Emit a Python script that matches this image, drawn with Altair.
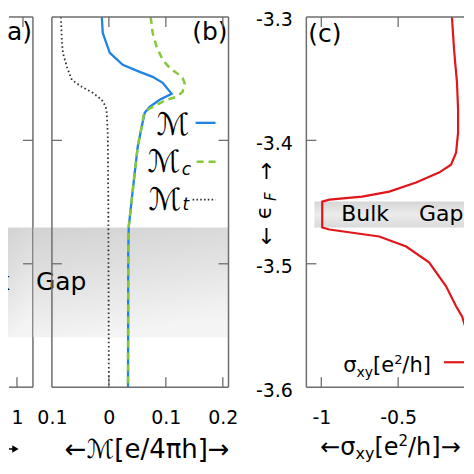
import altair as alt
import pandas as pd

FONT = "DejaVu Sans"
FC = "#6e6e6e"          # frame colour
E_LO, E_HI = -3.6, -3.3
H = 371
W_A, W_B, W_S, W_C = 25, 177, 40, 158
GAP = 19

A_DOM = [0.9416, 1.1039]
B_DOM = [-0.1, 0.21]
C_DOM = [-1.0974, -0.0714]

# ---------------- panel (b): magnetisation curves ----------------
m_e = [-3.300, -3.313, -3.329, -3.3388, -3.3445, -3.3485, -3.3534, -3.3623, -3.3671,
       -3.3728, -3.3777, -3.3890, -3.4052, -3.4262, -3.4480, -3.4699, -3.4885, -3.600]
m_v = [-0.0124, -0.0107, 0.0016, 0.0243, 0.0541, 0.0769, 0.0944, 0.1102, 0.0892,
       0.0716, 0.0629, 0.0576, 0.0506, 0.0454, 0.0401, 0.0349, 0.0340, 0.0336]

mc_e = [-3.300, -3.313, -3.3243, -3.3348, -3.3413, -3.3453, -3.3494, -3.3534, -3.3607,
        -3.3647, -3.3671, -3.3712, -3.3752, -3.3793, -3.3890, -3.4052, -3.4262, -3.4480,
        -3.4699, -3.4885, -3.600]
mc_v = [0.0734, 0.0769, 0.0839, 0.0944, 0.1067, 0.1189, 0.1294, 0.1329, 0.1294,
        0.1189, 0.1014, 0.0839, 0.0681, 0.0611, 0.0576, 0.0506, 0.0454, 0.0401,
        0.0349, 0.0340, 0.0336]

mt_e = [-3.300, -3.320, -3.3292, -3.3404, -3.351, -3.3566, -3.3615, -3.3671, -3.3728,
        -3.3777, -3.3939, -3.448, -3.600]
mt_v = [-0.0842, -0.0825, -0.0807, -0.0737, -0.0650, -0.0475, -0.0282, -0.0124, -0.0054,
        -0.0037, -0.0020, -0.0010, 0.000]

# ---------------- panel (c): Hall conductivity ----------------
s_e = [-3.300, -3.3267, -3.3534, -3.3752, -3.3938, -3.4100, -3.4197, -3.4261, -3.4342,
       -3.4415, -3.4456, -3.4480, -3.4496, -3.4706, -3.4722, -3.4779, -3.4860, -3.4989,
       -3.5183, -3.5345, -3.5426, -3.5531, -3.5669, -3.5855, -3.600]
s_v = [-0.150, -0.136, -0.117, -0.110, -0.110, -0.123, -0.156, -0.234, -0.383,
       -0.558, -0.734, -0.948, -0.994, -0.994, -0.948, -0.623, -0.448, -0.299,
       -0.188, -0.123, -0.084, -0.058, -0.039, -0.026, -0.020]

# gap bands
band_ab = [-3.4707, -3.5596]
band_c = [-3.4496, -3.4706]

y_ticks = [-3.4, -3.5]
y_labels = [-3.3, -3.4, -3.5, -3.6]
a_xlabels = [1]
a_ticks_bottom = [1]
a_ticks_top = [1.039]
b_xlabels = [-0.1, 0, 0.1, 0.2]
b_ticks = [0, 0.1, 0.2]
c_xlabels = [-1, -0.5]
c_ticks = [-1, -0.5]

BLUE = "#1f83e6"
GREEN = "#86c83a"
RED = "#e0161b"

# DejaVu Sans advance widths (em) used to set sub/superscript pieces side by side
ADV = {"σ": 0.633, "x": 0.592, "y": 0.592, "[": 0.390, "e": 0.615, "2": 0.636,
       "/": 0.337, "h": 0.634, "]": 0.390, "←": 0.838, "→": 0.838}


def series(e, v):
    return pd.DataFrame({"e": e, "v": v, "i": list(range(len(e)))})


ysc = alt.Scale(domain=[E_LO, E_HI], nice=False, zero=False)


def XE(dom, axis):
    return alt.X("v:Q", scale=alt.Scale(domain=dom, nice=False, zero=False), axis=axis)


def YE(axis):
    return alt.Y("e:Q", scale=ysc, axis=axis)


def line(e, v, X, Y, **kw):
    return alt.Chart(series(e, v)).mark_line(clip=True, **kw).encode(x=X, y=Y, order="i:Q")


def text(rows, X, Y, **kw):
    return alt.Chart(pd.DataFrame(rows)).mark_text(font=FONT, color="black", **kw).encode(
        x=X, y=Y, text="t:N")


def rich(v0, e0, pieces, X, Y):
    out, dx = [], 0.0
    for s, fs, dy in pieces:
        out.append(alt.Chart(pd.DataFrame({"v": [v0], "e": [e0], "t": [s]})).mark_text(
            font=FONT, fontSize=fs, align="left", baseline="alphabetic", dx=round(dx, 1),
            dy=dy, color="black").encode(x=X, y=Y, text="t:N"))
        dx += sum(ADV[c] for c in s) * fs
    return out


def seg(rows, X, Y, **kw):
    return alt.Chart(pd.DataFrame(rows)).mark_rule(**kw).encode(
        x=X, x2="v2:Q", y=Y, y2="e2:Q")


def band(v0, v1, e0, e1, X, Y, grad, clip=False):
    return alt.Chart(pd.DataFrame({"v": [v0], "v2": [v1], "e": [e0], "e2": [e1]})).mark_rect(
        color=grad, clip=clip).encode(x=X, x2="v2:Q", y=Y, y2="e2:Q")


def ticks_x(vals, X, side):
    y0, y1 = (H, H - 10) if side == "bottom" else (0, 10)
    return alt.Chart(pd.DataFrame({"v": vals})).mark_rule(color=FC, strokeWidth=1.3).encode(
        x=X, y=alt.value(y0), y2=alt.value(y1))


def ticks_y(vals, Y, side, W):
    x0, x1 = (0, 10) if side == "left" else (W, W - 10)
    return alt.Chart(pd.DataFrame({"e": vals})).mark_rule(color=FC, strokeWidth=1.3).encode(
        y=Y, x=alt.value(x0), x2=alt.value(x1))


grad_ab = alt.LinearGradient(
    gradient="linear", x1=0, x2=0.25, y1=0, y2=1,
    stops=[alt.GradientStop(color="#d2d2d2", offset=0),
           alt.GradientStop(color="#e2e2e2", offset=0.5),
           alt.GradientStop(color="#f4f4f4", offset=1)])
grad_c = alt.LinearGradient(
    gradient="linear", x1=0, x2=0, y1=0, y2=1,
    stops=[alt.GradientStop(color="#d6d6d6", offset=0),
           alt.GradientStop(color="#ececec", offset=0.5),
           alt.GradientStop(color="#d9d9d9", offset=1)])

# ---------------- panel (a) ----------------
XA = XE(A_DOM, alt.Axis(values=a_xlabels, labelExpr="'1'", labelPadding=21, title=None))
YA = YE(None)
pa = alt.layer(
    band(A_DOM[0], A_DOM[1], band_ab[0], band_ab[1], XA, YA, grad_ab, clip=True),
    text([{"v": 0.9545, "e": -3.5151, "t": "Bulk"}], XA, YA, align="right",
         baseline="middle", fontSize=25, clip=True),
    text([{"v": 1.0974, "e": -3.3121, "t": "(a)"}], XA, YA, align="right",
         baseline="middle", fontSize=25, clip=True),
    seg([{"v": 0.948, "v2": A_DOM[1], "e": E_HI, "e2": E_HI},
         {"v": 0.948, "v2": A_DOM[1], "e": E_LO, "e2": E_LO},
         {"v": A_DOM[1], "v2": A_DOM[1], "e": E_LO, "e2": E_HI}], XA, YA,
        color=FC, strokeWidth=1.5),
    ticks_y(y_ticks, YA, "right", W_A),
    ticks_x(a_ticks_bottom, XA, "bottom"),
    ticks_x(a_ticks_top, XA, "top"),
    seg([{"v": 0.948, "v2": 1.0, "e": -3.6501, "e2": -3.6501}], XA, YA,
        color="black", strokeWidth=1.5),
    alt.Chart(pd.DataFrame({"v": [0.99], "e": [-3.6501]})).mark_point(
        shape="triangle-right", filled=True, size=55, color="black", opacity=1).encode(x=XA, y=YA),
).properties(width=W_A, height=H)

# ---------------- panel (b) ----------------
XB = XE(B_DOM, alt.Axis(values=b_xlabels, labelExpr="format(abs(datum.value), '~g')",
                        labelPadding=21, title="←ℳ[e/4πh]→", titleX=95, titleY=62,
                        titleAlign="center", titleBaseline="middle", titleFontSize=26))
YB = YE(None)
pb = alt.layer(
    band(-0.1324, B_DOM[1], band_ab[0], band_ab[1], XB, YB, grad_ab),
    line(mt_e, mt_v, XB, YB, color="#333333", strokeWidth=1.8, strokeDash=[1.6, 2.6]),
    line(m_e, m_v, XB, YB, color=BLUE, strokeWidth=2.3),
    line(mc_e, mc_v, XB, YB, color=GREEN, strokeWidth=2.5, strokeDash=[7, 5]),
    seg([{"v": 0.1522, "v2": 0.1872, "e": -3.3858, "e2": -3.3858}], XB, YB,
        color=BLUE, strokeWidth=2.3),
    seg([{"v": 0.154, "v2": 0.1873, "e": -3.4173, "e2": -3.4173}], XB, YB,
        color=GREEN, strokeWidth=2.5, strokeDash=[7, 5]),
    seg([{"v": 0.147, "v2": 0.1873, "e": -3.448, "e2": -3.448}], XB, YB,
        color="#333333", strokeWidth=1.6, strokeDash=[1.6, 2.2]),
    text([{"v": 0.1417, "e": -3.3882, "t": "ℳ"},
          {"v": 0.1259, "e": -3.4181, "t": "ℳ"},
          {"v": 0.1277, "e": -3.4489, "t": "ℳ"}], XB, YB, align="right",
         baseline="middle", fontSize=31),
    text([{"v": 0.1277, "e": -3.4238, "t": "c"},
          {"v": 0.1294, "e": -3.4521, "t": "t"}], XB, YB, align="left",
         baseline="middle", fontSize=17, fontStyle="italic"),
    text([{"v": -0.128, "e": -3.5151, "t": "Gap"}], XB, YB, align="left",
         baseline="middle", fontSize=25),
    text([{"v": 0.2083, "e": -3.3121, "t": "(b)"}], XB, YB, align="right",
         baseline="middle", fontSize=25),
    seg([{"v": B_DOM[0], "v2": B_DOM[1], "e": E_HI, "e2": E_HI},
         {"v": B_DOM[0], "v2": B_DOM[1], "e": E_LO, "e2": E_LO},
         {"v": B_DOM[0], "v2": B_DOM[0], "e": E_LO, "e2": E_HI},
         {"v": B_DOM[1], "v2": B_DOM[1], "e": E_LO, "e2": E_HI}], XB, YB,
        color=FC, strokeWidth=1.5),
    ticks_y(y_ticks, YB, "left", W_B),
    ticks_y(y_ticks, YB, "right", W_B),
    ticks_x(b_ticks, XB, "bottom"),
    ticks_x(b_ticks, XB, "top"),
).properties(width=W_B, height=H)

# ---------------- spacer ----------------
sp = alt.Chart(pd.DataFrame({"v": [0], "e": [0]})).mark_point(opacity=0).encode(
    x=alt.X("v:Q", axis=None), y=alt.Y("e:Q", axis=None)).properties(width=W_S, height=H)

# ---------------- panel (c) ----------------
XC = XE(C_DOM, alt.Axis(values=c_xlabels,
                        labelExpr="(datum.value < 0 ? '-' : '') + format(abs(datum.value), '~g')",
                        labelPadding=21, title=None))
YC = YE(alt.Axis(values=y_labels, labelExpr="'-' + format(abs(datum.value), '.1f')",
                 labelPadding=14, labelOffset=3, title=None))
sigma_legend = [("σ", 21, 0), ("xy", 14, 5), ("[e", 21, 0), ("2", 13, -8), ("/h]", 21, 0)]
sigma_title = [("←", 24, 0), ("σ", 24, 0), ("xy", 16, 4), ("[e", 24, 0), ("2", 15, -9),
               ("/h]", 24, 0), ("→", 24, 0)]
pc = alt.layer(
    band(-1.045, C_DOM[1], band_c[0], band_c[1], XC, YC, grad_c),
    line(s_e, s_v, XC, YC, color=RED, strokeWidth=2.2),
    text([{"v": -0.870, "e": -3.4593, "t": "Bulk"},
          {"v": -0.3636, "e": -3.4593, "t": "Gap"}], XC, YC, align="left",
         baseline="middle", fontSize=22),
    text([{"v": -1.0844, "e": -3.3138, "t": "(c)"}], XC, YC, align="left",
         baseline="middle", fontSize=25),
    *rich(-0.8571, -3.5879, sigma_legend, XC, YC),
    seg([{"v": -0.2013, "v2": -0.0714, "e": -3.5798, "e2": -3.5798}], XC, YC,
        color=RED, strokeWidth=2.2),
    *rich(-1.0065, -3.6550, sigma_title, XC, YC),
    text([{"v": -1.357, "e": -3.4253, "t": "↑"},
          {"v": -1.357, "e": -3.4787, "t": "↓"}], XC, YC, align="center",
         baseline="middle", fontSize=22),
    text([{"v": -1.370, "e": -3.4585, "t": "ϵ"}], XC, YC, align="center",
         baseline="middle", fontSize=22, angle=270),
    text([{"v": -1.325, "e": -3.4456, "t": "F"}], XC, YC, align="center",
         baseline="middle", fontSize=15, angle=270, fontStyle="italic"),
    seg([{"v": C_DOM[0], "v2": C_DOM[1], "e": E_HI, "e2": E_HI},
         {"v": C_DOM[0], "v2": C_DOM[1], "e": E_LO, "e2": E_LO},
         {"v": C_DOM[0], "v2": C_DOM[0], "e": E_LO, "e2": E_HI}], XC, YC,
        color=FC, strokeWidth=1.5),
    ticks_y(y_ticks, YC, "left", W_C),
    ticks_x(c_ticks, XC, "bottom"),
    ticks_x(c_ticks, XC, "top"),
).properties(width=W_C, height=H)

chart = alt.hconcat(pa, pb, sp, pc, spacing=GAP, bounds="flush").properties(
    padding={"left": 0, "top": 2.5, "right": 0, "bottom": 0}
).configure_view(strokeWidth=0).configure_axis(
    labelFont=FONT, titleFont=FONT, labelFontSize=19, titleFontSize=22,
    labelColor="black", titleColor="black", titleFontWeight="normal",
    domain=False, ticks=False, tickSize=0, grid=False, labelFlush=False, labelOverlap=False,
)

chart.save("out.html", embed_options={"renderer": "svg", "actions": False})
